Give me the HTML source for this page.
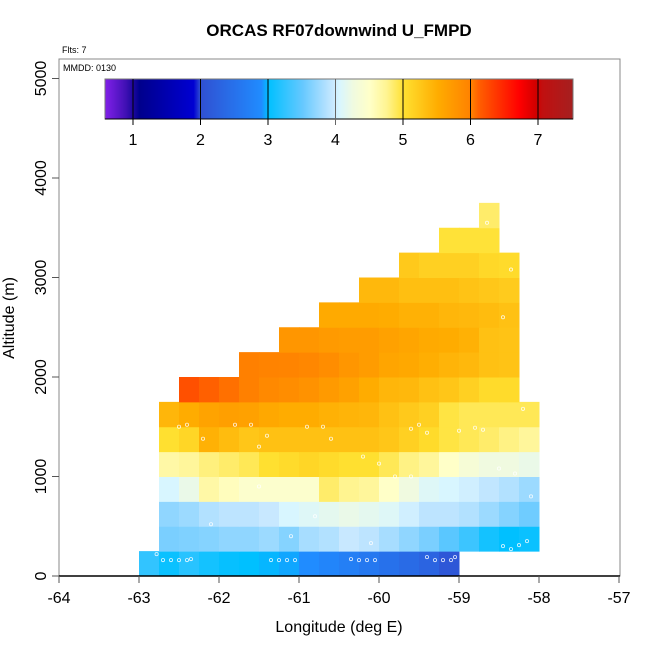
<!DOCTYPE html>
<html><head><meta charset="utf-8"><style>
body{margin:0;background:#fff;}
svg{display:block;font-family:"Liberation Sans",sans-serif;}
</style></head><body>
<svg id="chart" width="650" height="650" viewBox="0 0 650 650" xmlns="http://www.w3.org/2000/svg">
<text x="339" y="36" text-anchor="middle" font-size="17" font-weight="bold">ORCAS RF07downwind U_FMPD</text>
<text x="62" y="53" font-size="9">Flts: 7</text>
<g id="cells"></g>
<g id="pts"></g>
<rect x="59" y="59" width="561" height="517" fill="none" stroke="#888" stroke-width="1"/>
<line x1="59" y1="576" x2="620" y2="576" stroke="#000" stroke-width="1.5"/>
<text x="63" y="71" font-size="9">MMDD: 0130</text>
<g id="cbar"></g>
<g id="xaxis"></g>
<g id="yaxis"></g>
<text x="339" y="632" text-anchor="middle" font-size="16">Longitude (deg E)</text>
<text transform="translate(14,318) rotate(-90)" text-anchor="middle" font-size="16">Altitude (m)</text>
</svg>
<script>
// data
const rowBottoms=[0,250,500,750,1000,1250,1500,1750,2000,2250,2500,2750,3000,3250,3500];
const rowStartLon=[-63,-62.75,-62.75,-62.75,-62.75,-62.75,-62.75,-62.5,-61.75,-61.25,-60.75,-60.25,-59.75,-59.25,-58.75];
const row0=[3.25,3.05,3.2,3.1,3.03,3.0,2.98,2.95,2.9,2.8,2.7,2.6,2.5,2.4,2.3,2.1];
const row1=[3.6,3.62,3.65,3.7,3.7,3.75,3.65,3.8,3.85,3.95,3.9,3.8,3.7,3.6,3.45,3.3,3.1,3.0,3.05];
const row2=[3.7,3.75,3.85,3.9,3.9,3.95,4.05,4.1,4.15,4.2,4.15,4.1,4.0,3.9,3.9,3.85,3.75,3.65,3.55];
const row3=[4.05,4.2,4.65,4.55,4.45,4.45,4.45,4.45,4.85,4.75,4.7,4.5,4.25,4.1,4.05,4.0,3.92,3.85,3.75];
const row4=[4.65,4.7,4.8,4.85,4.9,5.0,5.05,5.1,5.05,5.0,5.0,4.9,4.78,4.7,4.5,4.35,4.25,4.25,4.2];
const row5=[5.0,5.1,5.45,5.35,5.25,5.3,5.3,5.3,5.3,5.3,5.3,5.25,5.15,5.05,4.95,4.9,4.85,4.78,4.7];
const row6=[5.4,5.5,5.6,5.65,5.62,5.55,5.5,5.5,5.45,5.42,5.4,5.3,5.22,5.15,4.95,4.9,4.9,4.9,4.9];
const row7=[6.2,6.1,6.05,6.0,5.9,5.85,5.8,5.7,5.62,5.5,5.4,5.38,5.3,5.25,5.15,5.05,5.05];
const row8=[6.0,5.97,5.95,5.92,5.85,5.75,5.68,5.58,5.55,5.48,5.42,5.38,5.3,5.28];
const row9=[5.75,5.75,5.7,5.68,5.68,5.62,5.58,5.52,5.5,5.45,5.3,5.28];
const row10=[5.52,5.52,5.52,5.5,5.45,5.45,5.4,5.38,5.35,5.3];
const row11=[5.38,5.38,5.32,5.32,5.32,5.28,5.24,5.2];
const row12=[5.22,5.15,5.15,5.15,5.08,5.05];
const row13=[4.98,4.98,4.98];
const row14=[4.85];
const rows=[row0,row1,row2,row3,row4,row5,row6,row7,row8,row9,row10,row11,row12,row13,row14];
const ptLon=[-62.78,-62.7,-62.6,-62.5,-62.4,-62.35,-61.35,-61.25,-61.15,-61.05,-60.35,-60.25,-60.15,-60.05,-59.4,-59.3,-59.2,-59.1,-59.05,-58.45,-58.35,-58.25,-58.15,-62.4,-61.8,-61.6,-61.4,-60.9,-60.7,-60.6,-59.6,-59.5,-59.4,-59.0,-58.8,-58.7,-58.2,-62.2,-61.5,-60.2,-60.0,-59.8,-58.5,-58.3,-62.1,-61.1,-60.1,-60.8,-59.6,-58.1,-62.85,-61.5,-62.5,-58.45,-58.15,-58.35,-58.65];
const ptAlt=[220,160,160,160,160,170,160,160,160,160,170,160,160,160,190,160,160,160,190,300,270,310,350,1520,1520,1520,1410,1500,1500,1380,1480,1520,1440,1460,1490,1470,1680,1380,1300,1200,1130,1000,1080,1030,520,400,330,600,1000,800,580,900,1500,2600,2150,3080,3550];
// scales
const X=v=>59+(v+64)*80;
const Y=v=>576-v*0.0995;
const CB=v=>538-(7-v)*67.5;
const stops=[[0.6,[128,32,232]],[0.9,[64,16,180]],[1.1,[0,0,140]],[1.9,[0,0,210]],[2.0,[48,80,210]],[2.9,[32,140,255]],[3.0,[0,192,255]],[3.5,[100,200,255]],[3.95,[200,232,255]],[4.05,[216,246,255]],[4.25,[240,250,224]],[4.5,[255,255,200]],[4.75,[255,244,144]],[5.0,[255,224,48]],[5.5,[255,172,0]],[6.0,[255,128,0]],[6.1,[255,96,0]],[6.7,[255,0,0]],[6.95,[208,0,0]],[7.05,[192,16,16]],[7.5,[165,32,32]]];
function col(v){
  if(v<=stops[0][0])return 'rgb('+stops[0][1]+')';
  for(let i=1;i<stops.length;i++){if(v<=stops[i][0]){const a=stops[i-1],b=stops[i],t=(v-a[0])/(b[0]-a[0]);
    return 'rgb('+a[1].map((c,k)=>Math.round(c+(b[1][k]-c)*t)).join(',')+')';}}
  return 'rgb('+stops[stops.length-1][1]+')';
}
const NS='http://www.w3.org/2000/svg';
function mk(t,a,p){const e=document.createElementNS(NS,t);for(const k in a)e.setAttribute(k,a[k]);p.appendChild(e);return e;}
const cells=document.getElementById('cells');
rows.forEach((r,i)=>{r.forEach((v,j)=>{
  const lon=rowStartLon[i]+j*0.25;
  const e=mk('rect',{x:X(lon),y:Y(rowBottoms[i]+250),width:X(lon+0.25)-X(lon)+0.5,height:Y(rowBottoms[i])-Y(rowBottoms[i]+250)+0.5,fill:col(v)},cells);
  
  
});});
const pts=document.getElementById('pts');
ptLon.forEach((l,i)=>{
  const e=mk('circle',{cx:X(l),cy:Y(ptAlt[i]),r:1.6,fill:'none',stroke:'#fff','stroke-width':0.8,opacity:0.85},pts);
  
  
});
// colorbar
const cb=document.getElementById('cbar');
for(let x=105;x<573;x++){const v=0.6+(x-105)/(573-105)*(7.5-0.6);
  const e=mk('rect',{x:x,y:79,width:1.2,height:40,fill:col(v)},cb);
  
  }
const cbf=mk('rect',{x:105,y:79,width:468,height:40,fill:'none',stroke:'#777','stroke-width':1},cb);


const cbb=mk('line',{x1:105,y1:119,x2:573,y2:119,stroke:'#000','stroke-width':1},cb);


const cbTicks=[1,2,3,4,5,6,7];
cbTicks.forEach(t=>{
  const l=mk('line',{x1:CB(t),y1:79,x2:CB(t),y2:125,stroke:t===4?'#666':'#000','stroke-width':1},cb);
  
  
  const s=mk('text',{x:CB(t),y:145,'text-anchor':'middle','font-size':16},cb);s.textContent=t;
  
  
});
const xTicks=[-64,-63,-62,-61,-60,-59,-58,-57];
const xa=document.getElementById('xaxis');
xTicks.forEach(t=>{
  const l=mk('line',{x1:X(t),y1:576,x2:X(t),y2:583,stroke:'#555'},xa);
  
  
  const s=mk('text',{x:X(t),y:603,'text-anchor':'middle','font-size':16},xa);s.textContent=t;
  
  
});
const yTicks=[0,1000,2000,3000,4000,5000];
const ya=document.getElementById('yaxis');
yTicks.forEach(t=>{
  const l=mk('line',{x1:52,y1:Y(t),x2:59,y2:Y(t),stroke:'#555'},ya);
  
  
  const s=mk('text',{transform:'translate(46,'+Y(t)+') rotate(-90)','text-anchor':'middle','font-size':16},ya);s.textContent=t;
  
  
});
</script>
</body></html>
